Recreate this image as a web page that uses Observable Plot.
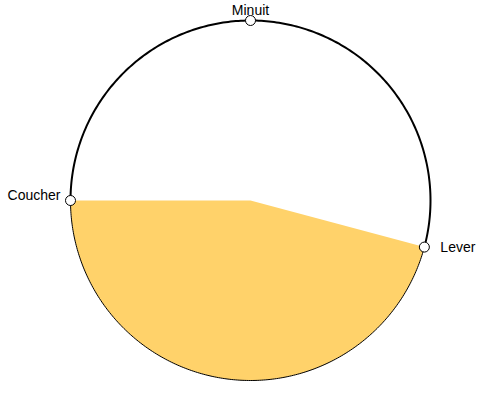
<!DOCTYPE html>
<html>
<head>
<meta charset="utf-8">
<script src="https://cdn.jsdelivr.net/npm/d3@7"></script>
<script src="https://cdn.jsdelivr.net/npm/@observablehq/plot@0.6"></script>
<style>
  html, body { margin: 0; padding: 0; background: #fff; }
  svg { font-family: "Liberation Sans", Arial, sans-serif; }
</style>
</head>
<body>
<div id="chart"></div>
<script>
// Data: hours on a 24h clock (0h = top, clockwise)
const eventLabels = ["Minuit", "Lever", "Coucher"];
const eventHours = [0, 7, 18];
const sunrise = 7;
const sunset = 18;
const dayColor = "#ffd26a";

// geometry helpers (angle from hour, clockwise from top)
const toXY = h => {
  const a = h / 24 * 2 * Math.PI;
  return {x: Math.sin(a), y: Math.cos(a)};
};
const arcPts = (h0, h1) => {
  const n = 240;
  return d3.range(n + 1).map(i => toXY(h0 + (h1 - h0) * i / n));
};

const dayArc = arcPts(sunrise, sunset);
const nightArc = arcPts(sunset, sunrise + 24);
const dayPoly = [{x: 0, y: 0}, ...dayArc, {x: 0, y: 0}];
const events = eventLabels.map((label, i) => ({label, ...toXY(eventHours[i])}));

const chart = Plot.plot({
  width: 500,
  height: 400,
  margin: 0,
  x: {domain: [-1, 1], range: [70, 430], axis: null},
  y: {domain: [-1, 1], range: [380, 20], axis: null},
  style: {fontFamily: "Liberation Sans, Arial, sans-serif", fontSize: "14px"},
  marks: [
    Plot.line(dayPoly, {x: "x", y: "y", fill: dayColor, stroke: "none"}),
    Plot.line(dayArc, {x: "x", y: "y", stroke: "#000", strokeWidth: 1}),
    Plot.line(nightArc, {x: "x", y: "y", stroke: "#000", strokeWidth: 2}),
    Plot.dot(events, {x: "x", y: "y", r: 5, fill: "#fff", stroke: "#000", strokeWidth: 1}),
    Plot.text(events.filter(d => d.label === "Minuit"), {x: "x", y: "y", text: "label", dy: -9.5, fontSize: 14, fill: "#000"}),
    Plot.text(events.filter(d => d.label === "Coucher"), {x: "x", y: "y", text: "label", textAnchor: "end", dx: -10, dy: -4.5, fontSize: 14, fill: "#000"}),
    Plot.text(events.filter(d => d.label === "Lever"), {x: "x", y: "y", text: "label", textAnchor: "start", dx: 16, dy: 0, fontSize: 14, fill: "#000"})
  ]
});
document.getElementById("chart").appendChild(chart);
</script>
</body>
</html>
